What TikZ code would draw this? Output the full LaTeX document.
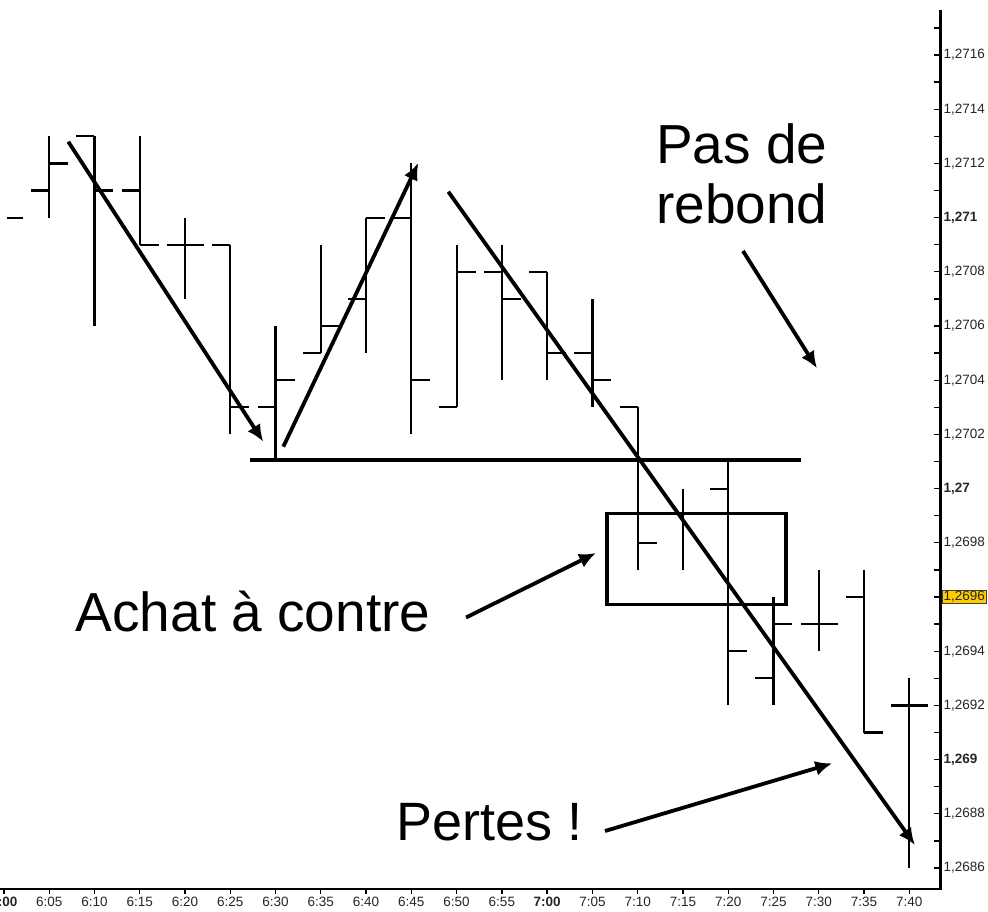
\documentclass[tikz,border=0pt]{standalone}
\usepackage{fontspec}
\setmainfont{Liberation Sans}
\usetikzlibrary{arrows.meta}
\definecolor{hl}{HTML}{FFCC00}
\begin{document}
\begin{tikzpicture}[x=1pt,y=-1pt,
  barline/.style={line width=2.2pt, line cap=butt},
  annot/.style={line width=3.8pt, -{Latex[length=17pt,width=15pt]}},
  big/.style={font=\fontsize{55}{60}\selectfont, inner sep=0pt, anchor=base west},
  axlbl/.style={font=\fontsize{13.5}{15}\selectfont, inner sep=0pt, text=black!85},
  axisline/.style={line width=2.8pt},
  tickline/.style={line width=1.3pt}
]
\useasboundingbox (0,0) rectangle (988,911);
\clip (0,0) rectangle (988,911);
\fill[white] (0,0) rectangle (988,911);

% OHLC bars: n / high / low / open / close  (price units of 0.0001 above 1,2686)
\draw[barline] (7,{868-27.1*24}) -- (23,{868-27.1*24});
\foreach \n/\h/\l/\o/\c in {1/27/24/25/26, 2/27/20/27/25, 3/27/23/25/23, 4/24/21/23/23,
  5/23/16/23/17, 6/20/15/17/18, 7/23/19/19/20, 8/24/19/21/24, 9/26/16/24/18,
  10/23/17/17/22, 11/23/18/22/21, 12/22/18/22/19, 13/21/17/19/18, 14/17/11/17/12,
  16/15/6/14/8, 17/10/6/7/9, 18/11/8/9/9, 19/11/5/10/5, 20/7/0/6/6} {
  \draw[barline] ({3.9+45.27*\n},{868-27.1*\h}) -- ({3.9+45.27*\n},{868-27.1*\l});
  \draw[barline] ({3.9+45.27*\n-18},{868-27.1*\o}) -- ({3.9+45.27*\n},{868-27.1*\o});
  \draw[barline] ({3.9+45.27*\n},{868-27.1*\c}) -- ({3.9+45.27*\n+19},{868-27.1*\c});
}
% 7:15 bar (open and close hidden under the box edge)
\draw[barline] ({3.9+45.27*15},{868-27.1*14}) -- ({3.9+45.27*15},{868-27.1*11});

% axes
\coordinate (ytop) at (940.7,10);
\coordinate (corner) at (940.7,889);
\coordinate (xleft) at (0,889);
\draw[axisline] (ytop) -- (corner) -- (xleft);
\foreach \k in {0,...,31}
  \draw[tickline] (934,{868-27.1*\k}) -- (940.7,{868-27.1*\k});
\foreach \k/\t in {0/1{,}2686, 2/1{,}2688, 4/\textbf{1{,}269}, 6/1{,}2692, 8/1{,}2694,
  12/1{,}2698, 14/\textbf{1{,}27}, 16/1{,}2702, 18/1{,}2704, 20/1{,}2706, 22/1{,}2708,
  24/\textbf{1{,}271}, 26/1{,}2712, 28/1{,}2714, 30/1{,}2716}
  \node[axlbl, anchor=west] (yl\k) at (943.5,{868-27.1*\k}) {\t};
\node[axlbl, anchor=west, fill=hl, draw=black!75, line width=0.7pt, inner sep=1.2pt]
  (yl10) at (942,{868-27.1*10}) {1,2696};

\foreach \n in {0,...,20}
  \draw[tickline] ({3.9+45.27*\n},889) -- ({3.9+45.27*\n},894);
\foreach \n/\t in {0/\textbf{6:00}, 1/6:05, 2/6:10, 3/6:15, 4/6:20, 5/6:25, 6/6:30, 7/6:35,
  8/6:40, 9/6:45, 10/6:50, 11/6:55, 12/\textbf{7:00}, 13/7:05, 14/7:10, 15/7:15,
  16/7:20, 17/7:25, 18/7:30, 19/7:35, 20/7:40}
  \node[axlbl] (xl\n) at ({3.9+45.27*\n},901.5) {\t};

% support line and box
\coordinate (s1) at (250,460);
\coordinate (s2) at (801,460);
\draw[line width=3.8pt] (s1) -- (s2);
\node[draw, line width=3.6pt, minimum width=179pt, minimum height=91pt, inner sep=0pt]
  (box) at (696.2,558.8) {};

% annotation arrows
\coordinate (a1s) at (68.3,141.7);  \coordinate (a1e) at (263.3,441.7);
\coordinate (a2s) at (283.3,446.7); \coordinate (a2e) at (418.3,163);
\coordinate (a3s) at (448.3,191.7); \coordinate (a3e) at (915,845);
\coordinate (a4s) at (743,251);     \coordinate (a4e) at (817,368.3);
\coordinate (a5s) at (466,617.5);   \coordinate (a5e) at (596,553);
\coordinate (a6s) at (605,831);     \coordinate (a6e) at (832.3,763.3);
\draw[annot] (a1s) -- (a1e);
\draw[annot] (a2s) -- (a2e);
\draw[annot] (a3s) -- (a3e);
\draw[annot] (a4s) -- (a4e);
\draw[annot] (a5s) -- (a5e);
\draw[annot] (a6s) -- (a6e);

% texts
\node[big] (pas) at (656,163.3) {Pas de};
\node[big] (rebond) at (656,223) {rebond};
\node[big] (achat) at (75.5,631.7) {Achat à contre};
\node[big, font=\fontsize{54}{60}\selectfont] (pertes) at (396.5,840) {Pertes !};
\end{tikzpicture}
\end{document}
